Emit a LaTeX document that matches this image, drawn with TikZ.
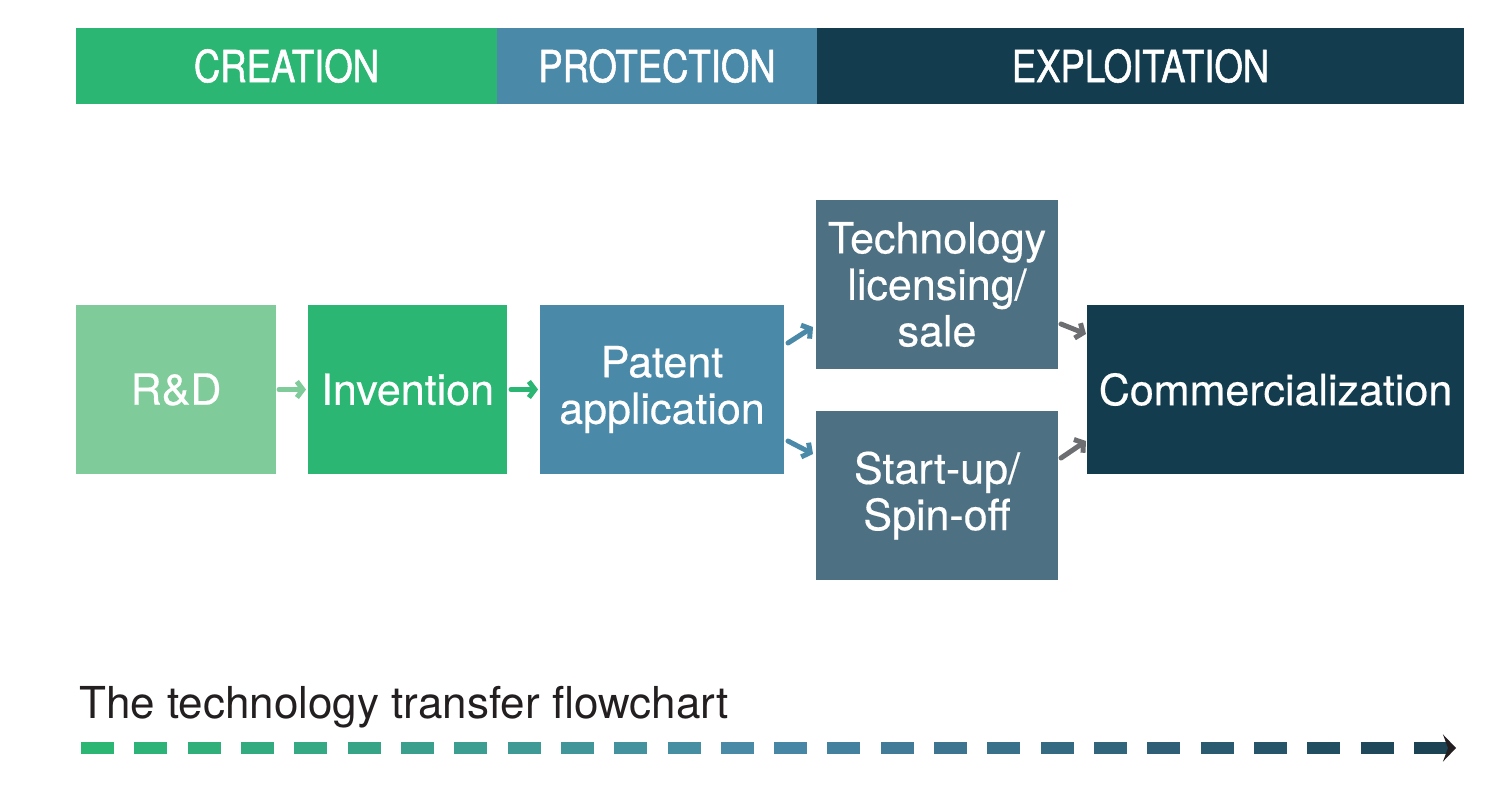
\documentclass[tikz,border=0pt]{standalone}
\usepackage{fontspec}
\setmainfont{TeX Gyre Heros}
\newfontfamily\condfont[FakeStretch=0.83,FakeBold=1.2]{TeX Gyre Heros}
\newfontfamily\boxfont[FakeBold=0.4]{TeX Gyre Heros}
\usetikzlibrary{arrows.meta}
\definecolor{cgreen}{RGB}{43,182,115}
\definecolor{clight}{RGB}{127,203,154}
\definecolor{cblue}{RGB}{74,137,168}
\definecolor{cslate}{RGB}{78,112,131}
\definecolor{cdark}{RGB}{19,61,78}
\definecolor{cdash}{RGB}{27,67,84}
\definecolor{cgray}{RGB}{109,110,113}
\definecolor{ctext}{RGB}{35,31,32}
\tikzset{
  band/.style={anchor=north west, inner sep=0pt, outer sep=0pt, text=white,
    font=\condfont\fontsize{44}{46}\selectfont, minimum height=76pt},
  stepbox/.style={anchor=north west, inner sep=0pt, outer sep=0pt, text=white,
    align=center, font=\boxfont\fontsize{43}{46.5}\selectfont},
  flow/.style={line width=5pt, line cap=round, line join=round,
    -{Straight Barb[length=6pt,width=16pt]}},
}
\begin{document}
\begin{tikzpicture}[x=1pt,y=-1pt]
\useasboundingbox (0,0) rectangle (1512,790);
% header bands
\node[band, fill=cgreen, minimum width=421pt] (hcre) at (76,28) {CREATION};
\node[band, fill=cblue, minimum width=320pt] (hpro) at (497,28) {PROTECTION};
\node[band, fill=cdark, minimum width=647pt] (hexp) at (817,28) {EXPLOITATION};
% step boxes
\node[stepbox, fill=clight, minimum width=200pt, minimum height=169pt] (rd) at (76,305) {R\&D};
\node[stepbox, fill=cgreen, minimum width=199pt, minimum height=169pt] (inv) at (308,305) {Invention};
\node[stepbox, fill=cblue, minimum width=244pt, minimum height=169pt] (pat) at (540,305) {Patent\\application};
\node[stepbox, fill=cslate, minimum width=242pt, minimum height=169pt] (tech) at (816,200) {Technology\\licensing/\\sale};
\node[stepbox, fill=cslate, minimum width=242pt, minimum height=169pt] (start) at (816,411) {Start-up/\\Spin-off};
\node[stepbox, fill=cdark, minimum width=377pt, minimum height=169pt] (comm) at (1087,305) {Commercialization};
% connectors
\draw[flow, clight] ([xshift=3pt]rd.east) -- ([xshift=-2pt]inv.west);
\draw[flow, cgreen] ([xshift=4pt]inv.east) -- ([xshift=-2pt]pat.west);
\draw[flow, cblue] ([shift={(4,38)}]pat.north east) -- ([shift={(-3,-42)}]tech.south west);
\draw[flow, cblue] ([shift={(4,-33)}]pat.south east) -- ([shift={(-3,43)}]start.north west);
\draw[flow, cgray] ([shift={(3,-45)}]tech.south east) -- ([shift={(-1,29)}]comm.north west);
\draw[flow, cgray] ([shift={(3,47)}]start.north east) -- ([shift={(-1,-33)}]comm.south west);
% caption
\node[anchor=base west, inner sep=0pt, text=ctext, font=\fontsize{44}{46}\selectfont] (cap) at (79,718) {The technology transfer flowchart};
% dashed progress line
\coordinate (dstart) at (81,748);
\coordinate (dend) at (1456,748);
\foreach \i in {0,...,24}{
  \pgfmathsetmacro\s{\i/25}
  \pgfmathparse{\s<=0.5 ? 100-200*\s : 200-200*\s}\let\p\pgfmathresult
  \ifdim\s pt<0.5pt
    \colorlet{dc}{cgreen!\p!cblue}
  \else
    \colorlet{dc}{cblue!\p!cdash}
  \fi
  \draw[dc, line width=12pt] ([xshift=53.32*\i]dstart) -- ([xshift=53.32*\i+33]dstart);
}
\draw[cdash, line width=12pt, -{Stealth[length=13pt,width=27pt,inset=5pt,color=ctext]}] ([xshift=53.32*25]dstart) -- (dend);
\end{tikzpicture}
\end{document}
